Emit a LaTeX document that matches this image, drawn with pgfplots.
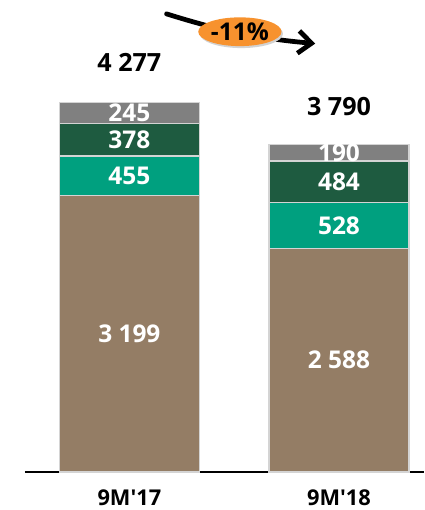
\documentclass[border=0pt]{standalone}
\usepackage{pgfplots}
\pgfplotsset{compat=1.18}
\usepackage{fontspec}
\setmainfont{Open Sans}
\usetikzlibrary{arrows.meta}
\definecolor{Brown}{HTML}{947D65}
\definecolor{Teal}{HTML}{00A07F}
\definecolor{DarkGreen}{HTML}{1E5B40}
\definecolor{Grey}{HTML}{808080}
\definecolor{Edge}{HTML}{D4D4D4}
\definecolor{Orange}{HTML}{F7922E}
\tikzset{val/.style={text=white, font=\bfseries\fontsize{18.5}{20}\selectfont},
  tot/.style={text=black, font=\bfseries\fontsize{19}{20}\selectfont}}

\begin{document}
\begin{tikzpicture}[x=0.75pt,y=0.75pt]
\path (0,0) rectangle (428,510);
\begin{axis}[
  at={(25,39)}, anchor=south west,
  scale only axis, width=302.25pt, height=353.25pt,
  xmin=25, xmax=428, ymin=0, ymax=5405,
  ybar stacked, bar width=141,
  axis x line=bottom, axis y line=none,
  x axis line style={-, black, line width=1.1pt},
  xtick={130.5,342}, xticklabels={9M\textquotesingle 17,9M\textquotesingle 18},
  major tick length=0pt,
  xticklabel style={anchor=center, yshift=-19.5pt, font=\bfseries\fontsize{16.5}{18}\selectfont},
  clip=false,
]
\addplot[fill=Brown, draw=Edge, line width=1.1pt] coordinates {(130.5,3199) (342,2588)};
\addplot[fill=Teal, draw=Edge, line width=1.1pt] coordinates {(130.5,455) (342,528)};
\addplot[fill=DarkGreen, draw=Edge, line width=1.1pt] coordinates {(130.5,378) (342,484)};
\addplot[fill=Grey, draw=Edge, line width=1.1pt] coordinates {(130.5,245) (342,190)};
\coordinate (a1) at (axis cs:130.5,1599.5);
\coordinate (a2) at (axis cs:130.5,3426.5);
\coordinate (a3) at (axis cs:130.5,3843);
\coordinate (a4) at (axis cs:130.5,4154.5);
\coordinate (b1) at (axis cs:342,1294);
\coordinate (b2) at (axis cs:342,2852);
\coordinate (b3) at (axis cs:342,3358);
\coordinate (b4) at (axis cs:342,3695);
\coordinate (ta) at (axis cs:130.5,4735);
\coordinate (tb) at (axis cs:342,4225);
\end{axis}
\node[val] at (a1) {3 199};
\node[val] at (a2) {455};
\node[val] at (a3) {378};
\node[val] at (a4) {245};
\node[val] at (b1) {2 588};
\node[val] at (b2) {528};
\node[val] at (b3) {484};
\node[val] at (b4) {190};
\node[tot] at (ta) {4 277};
\node[tot] at (tb) {3 790};
\draw[line width=3.6pt, line cap=round, -{Straight Barb[length=10pt,width=17pt]}]
  (168,496) to[bend right=6] (318,466);
\fill[gray!35] (243.5,476) ellipse [x radius=42, y radius=14.5];
\fill[Orange] (242,478) ellipse [x radius=42, y radius=14.5];
\node[font=\bfseries\fontsize{18.5}{20}\selectfont] at (242,478) {-11\%};
\end{tikzpicture}
\end{document}
